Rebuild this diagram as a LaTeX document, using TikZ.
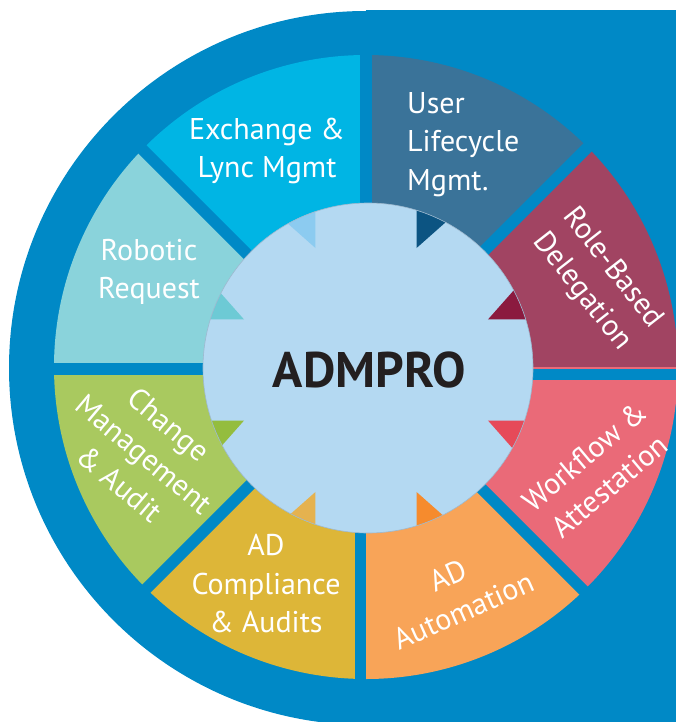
\documentclass[tikz,border=0pt]{standalone}
\usepackage{fontspec}
\setmainfont{PT Sans}
\usetikzlibrary{calc}
\definecolor{bgblue}{HTML}{0089C6}
\definecolor{cRole}{HTML}{A14462}
\definecolor{cUser}{HTML}{3A7399}
\definecolor{cExch}{HTML}{00B5E4}
\definecolor{cRobo}{HTML}{8AD3DB}
\definecolor{cChan}{HTML}{A9C95F}
\definecolor{cComp}{HTML}{DDB638}
\definecolor{cAuto}{HTML}{F8A458}
\definecolor{cWork}{HTML}{EA6A78}
\definecolor{aRole}{HTML}{8B1A3F}
\definecolor{aUser}{HTML}{0C5482}
\definecolor{aExch}{HTML}{8CCBF0}
\definecolor{aRobo}{HTML}{6DCAD5}
\definecolor{aChan}{HTML}{94BD3E}
\definecolor{aComp}{HTML}{E5B24F}
\definecolor{aAuto}{HTML}{F68B2D}
\definecolor{aWork}{HTML}{E64A59}
\definecolor{hubcol}{HTML}{B4D9F2}
\definecolor{hubedge}{HTML}{9DB9CF}
\definecolor{darktext}{HTML}{231F20}
\begin{document}
\begin{tikzpicture}[x=1pt,y=-1pt,
  lbl/.style={text=white, font=\fontsize{30}{38.5}\selectfont, align=center, inner sep=0pt},
  gapline/.style={line width=11.5pt, draw=bgblue},
  hubdisc/.style={fill=hubcol},
  titletext/.style={text=darktext, font=\fontsize{50}{52}\selectfont\bfseries, inner sep=0pt}
]
\useasboundingbox (0,0) rectangle (676,722);
% background
\fill[bgblue] (366,368) circle[radius=357];
\fill[bgblue] (366,10) rectangle (676,722);
% sectors
\coordinate (C) at (366,367);
\foreach \a/\col in {0/cRole,45/cUser,90/cExch,135/cRobo,180/cChan,225/cComp,270/cAuto,315/cWork}{
  \fill[\col] (C) -- ++(-\a:312) arc[start angle=-\a, end angle=-\a-45, radius=312] -- cycle;
}
% gaps between sectors
\coordinate (G) at (364,371);
\draw[gapline] (366,371) -- (366,25);
\draw[gapline] (360.5,371) -- (360.5,722);
\draw[gapline] (364,369) -- (25,369);
\draw[gapline] (364,374.5) -- (690,374.5);
\foreach \a in {45,135,225,315}{
  \draw[gapline] (G) -- ++(-\a:335);
}
% hub
\coordinate (H) at (368,368);
\fill[hubdisc] (H) circle[radius=165];
% accent triangles
\coordinate (T) at (366,370);
\begin{scope}
  \clip (H) circle[radius=165];
  \foreach \m/\ax/\ot/\col in {22.5/0/48.5/aRole, 67.5/90/41.5/aUser, 112.5/90/138.5/aExch, 157.5/180/131.5/aRobo,
      202.5/180/228.5/aChan, 247.5/270/221.5/aComp, 292.5/270/318.5/aAuto, 337.5/360/311.5/aWork}{
    \path (T) ++(-\m:132) coordinate (tip);
    \fill[\col] (tip) -- +(-\ax:160) -- +(-\ot:160) -- cycle;
  }
\end{scope}
\draw[hubedge, line width=0.6pt] (H) circle[radius=165];
% labels
\node[titletext] (title) at (369.5,370) {ADMPRO};
\node[lbl] (exch) at (267,151) {Exchange \&\\Lync Mgmt};
\node[lbl, align=left, anchor=west] (user) at (407,144.5) {User\\Lifecycle\\Mgmt.};
\node[lbl] (robo) at (149,272) {Robotic\\Request};
\node[lbl] (comp) at (266,584) {AD\\Compliance\\\& Audits};
\node[lbl, rotate=-52] (role) at (597,280) {Role-Based\\Delegation};
\node[lbl, rotate=40] (work) at (597,471) {Workflow \&\\Attestation};
\node[lbl, rotate=24] (auto) at (456,593) {AD\\Automation};
\node[lbl, rotate=-40] (chan) at (144,454) {Change\\Management\\\& Audit};
\end{tikzpicture}
\end{document}
